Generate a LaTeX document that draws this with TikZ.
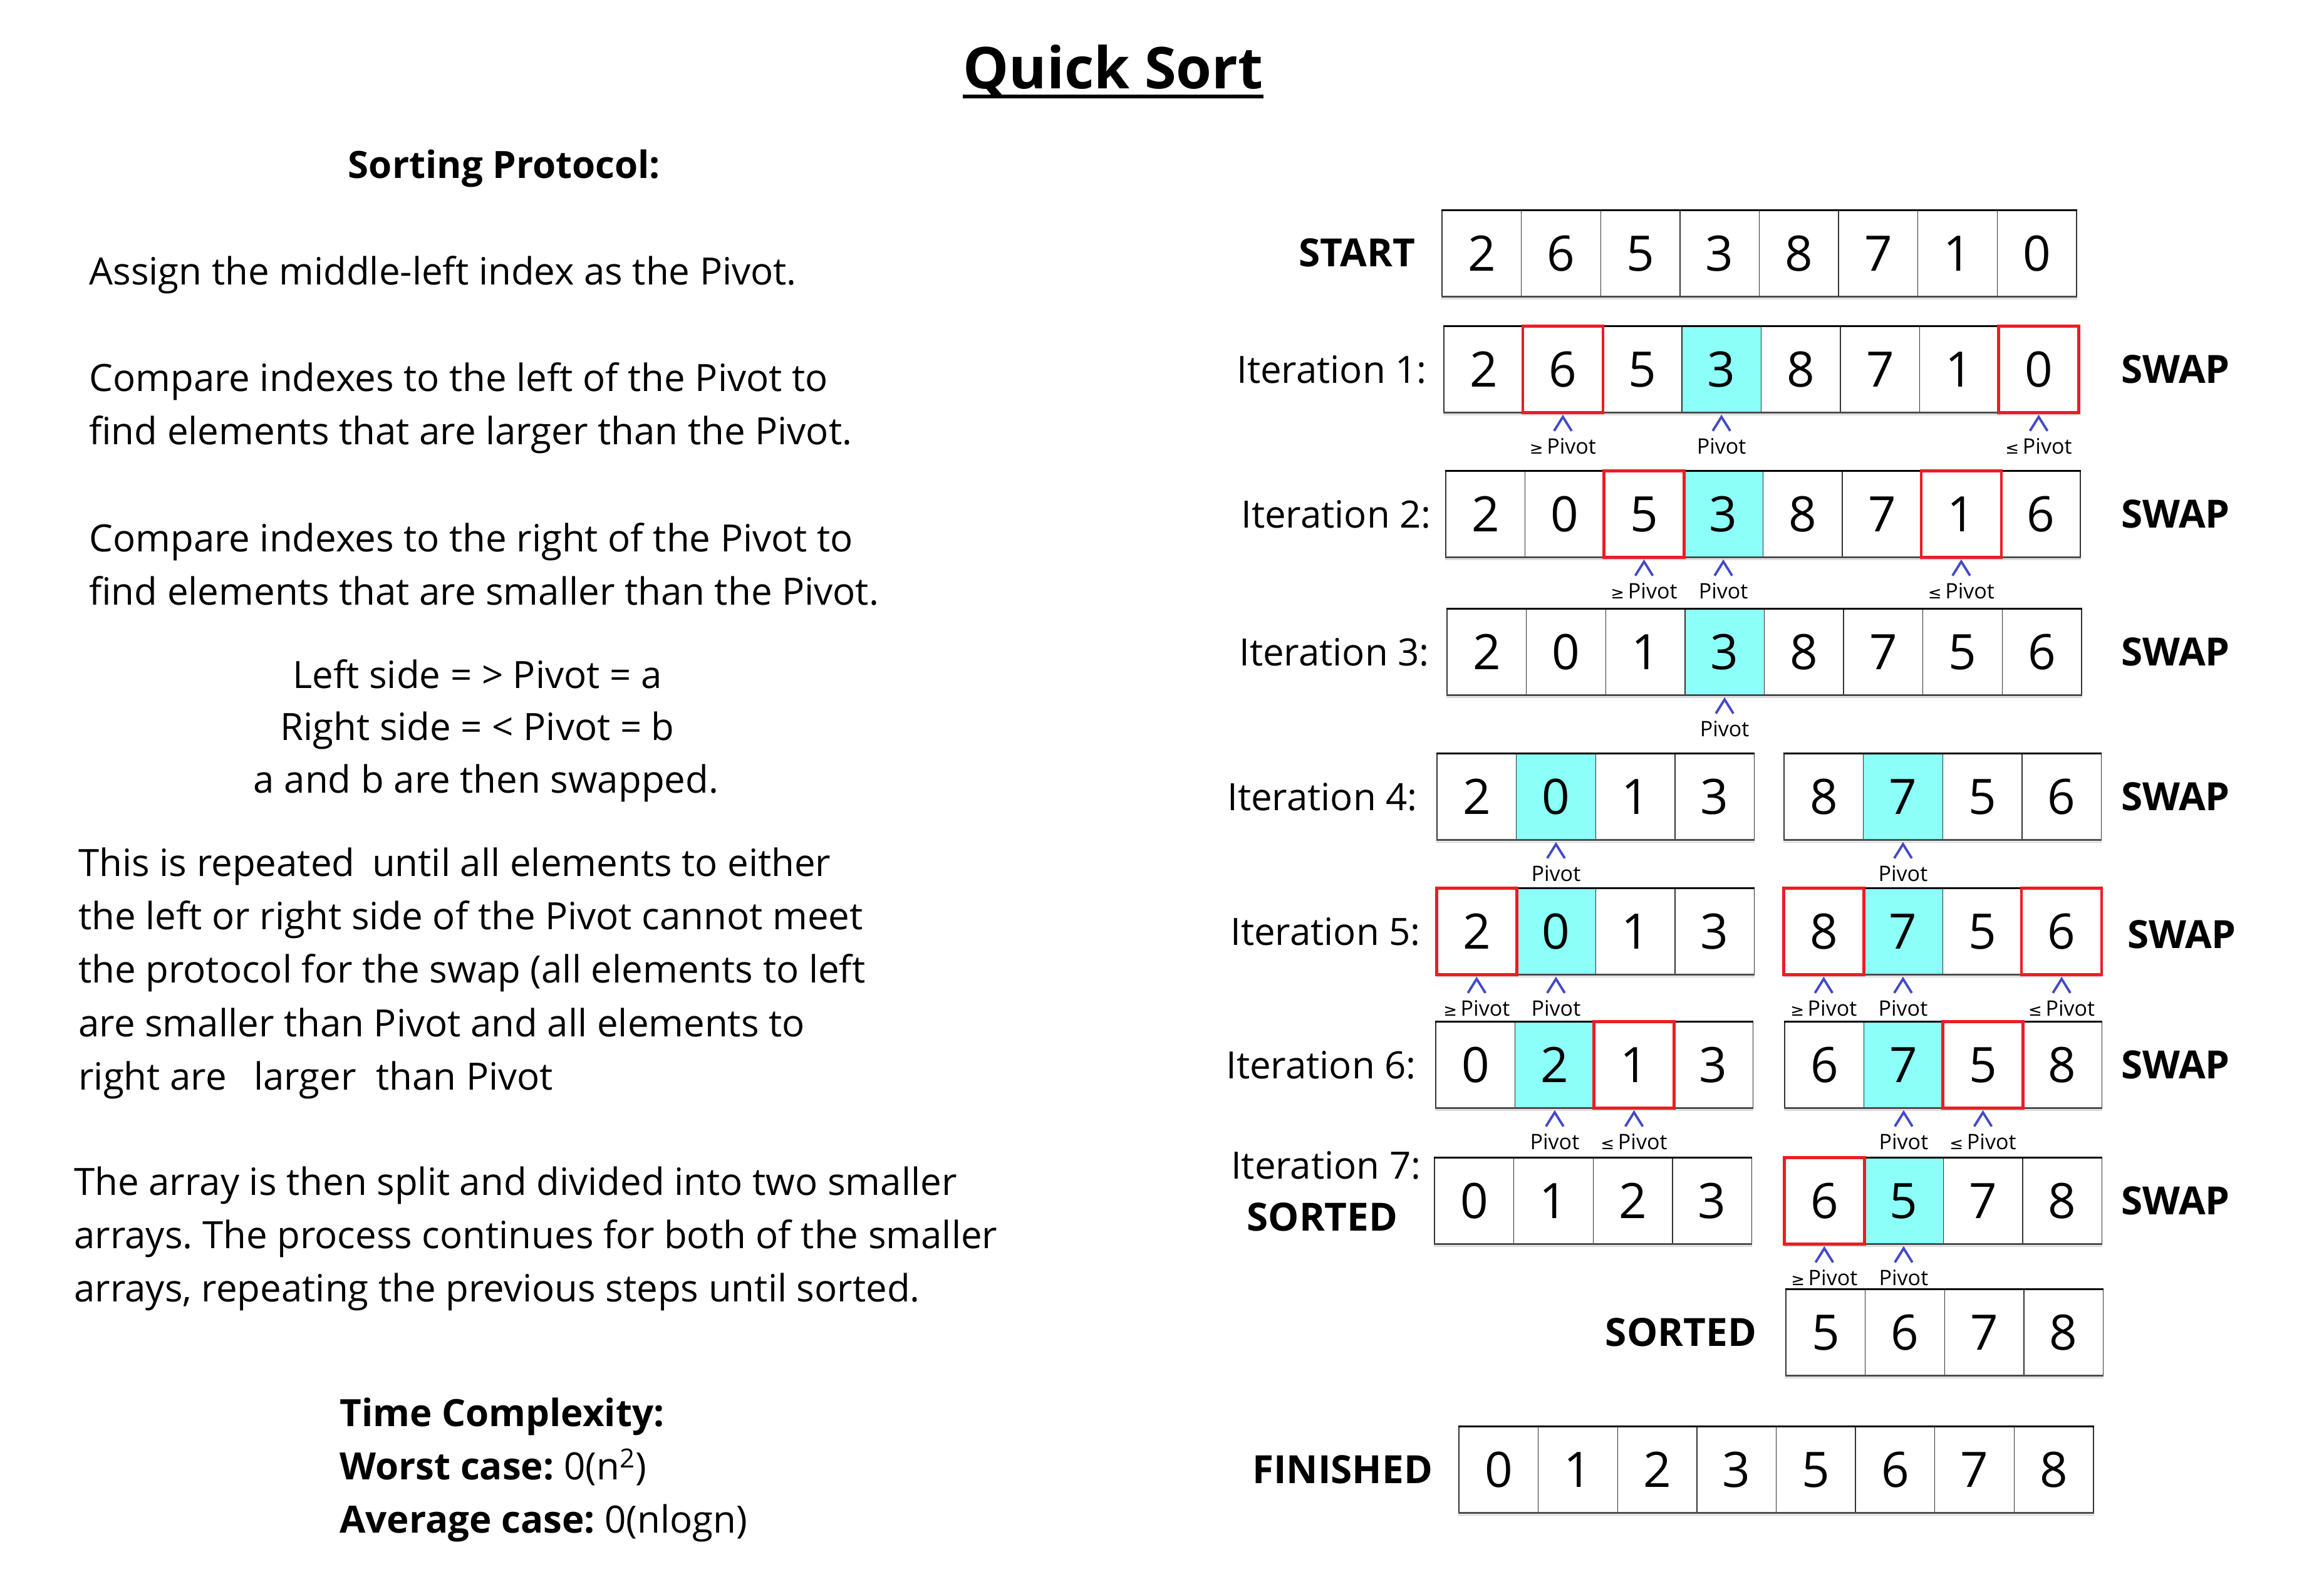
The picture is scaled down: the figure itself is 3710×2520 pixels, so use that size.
\documentclass[tikz,border=0pt]{standalone}
\usepackage{fontspec}
\setmainfont{Open Sans}
\newfontfamily\symfont{DejaVu Sans}
\definecolor{pivcyan}{HTML}{8CFFF8}
\definecolor{swapred}{HTML}{ED1C24}
\definecolor{caretblue}{HTML}{4349C8}
\newcommand\gesym{{\symfont\fontsize{13}{13}\selectfont ≥}}
\newcommand\lesym{{\symfont\fontsize{13}{13}\selectfont ≤}}
\frenchspacing
\tikzset{
  cellbox/.style={draw=black!80, line width=0.7pt, minimum width=63.3pt, minimum height=68.5pt, inner sep=0pt, font=\fontsize{39}{40}\selectfont, text height=28pt, text depth=0pt},
  pl/.style={},
  pv/.style={fill=pivcyan},
  topedge/.style={line width=1.6pt, black},
  botedge/.style={line width=1.6pt, black!70},
  botshade/.style={line width=1pt, black!15},
  redframe/.style={draw=swapred, line width=2.3pt},
  caretline/.style={draw=caretblue, line width=1.9pt},
  plabel/.style={font=\fontsize{17}{17}\selectfont, inner sep=0pt, text height=12.5pt, text depth=0pt},
  rowlabel/.style={font=\fontsize{30}{34}\selectfont, inner sep=0pt, text height=21.5pt, text depth=0pt},
  boldlabel/.style={rowlabel, font=\fontsize{31}{34}\selectfont\bfseries},
  bodyline/.style={font=\fontsize{30}{40}\selectfont, inner sep=0pt, anchor=base west},
  bodyc/.style={font=\fontsize{30}{40}\selectfont, inner sep=0pt, anchor=base},
}
\newcommand\drawarr[5]{%
  \foreach \v/\s [count=\i] in {#5} {
    \node[cellbox,\s] (#1-\i) at ({#2+126.6*(\i-0.5)},{#3+68.5}) {\v};
  }
  \draw[botshade] ([yshift=-1.5pt]#1-1.south west) -- ([yshift=-1.5pt]#1-#4.south east);
  \draw[botedge] (#1-1.south west) -- (#1-#4.south east);
  \draw[topedge] (#1-1.north west) -- (#1-#4.north east);
}
\newcommand\pmark[3]{%
  \draw[caretline] ([xshift=-7pt,yshift=-14.5pt]#1.south) -- ([yshift=-3.3pt]#1.south) -- ([xshift=7pt,yshift=-14.5pt]#1.south);
  \node[plabel] (#3) at ([yshift=-26.5pt]#1.south) {#2};
}
\newcommand\redcell[1]{\draw[redframe] (#1.north west) rectangle (#1.south east);}
\begin{document}
\begin{tikzpicture}[x=0.5pt,y=-0.5pt]
\fill[white] (0,0) rectangle (3710,2520);
\useasboundingbox (0,0) rectangle (3710,2520);

% ---------- title ----------
\node[font=\fontsize{46}{50}\selectfont\bfseries, inner sep=0pt, anchor=base] (title) at (1777,142) {Quick Sort};
\draw[line width=2.6pt] ([yshift=-6pt]title.base west) -- ([yshift=-6pt]title.base east);

% ---------- left text ----------
\node[font=\fontsize{30}{40}\selectfont\bfseries, inner sep=0pt, anchor=base] (proto) at (805,285) {Sorting Protocol:};
\node[bodyline] (l1) at (142,454) {Assign the middle-left index as the Pivot.};
\node[bodyline] (l2) at (142,624) {Compare indexes to the left of the Pivot to};
\node[bodyline] (l3) at (142,709) {find elements that are larger than the Pivot.};
\node[bodyline] (l4) at (142,880) {Compare indexes to the right of the Pivot to};
\node[bodyline] (l5) at (142,965) {find elements that are smaller than the Pivot.};
\node[bodyc] (l6) at (762,1098) {Left side = > Pivot = a};
\node[bodyc] (l7) at (762,1181) {Right side = < Pivot = b};
\node[bodyc] (l8) at (776,1265) {a and b are then swapped.};
\node[bodyline] (l9) at (125,1398) {This is repeated\hspace{6pt} until all elements to either};
\node[bodyline] (l10) at (125,1483) {the left or right side of the Pivot cannot meet};
\node[bodyline] (l11) at (125,1568) {the protocol for the swap (all elements to left};
\node[bodyline] (l12) at (125,1654) {are smaller than Pivot and all elements to};
\node[bodyline] (l13) at (125,1739) {right are\hspace{14pt} larger\hspace{8pt} than Pivot};
\node[bodyline] (l14) at (118,1907) {The array is then split and divided into two smaller};
\node[bodyline] (l15) at (118,1992) {arrays. The process continues for both of the smaller};
\node[bodyline] (l16) at (118,2077) {arrays, repeating the previous steps until sorted.};
\node[bodyline, font=\fontsize{30}{40}\selectfont\bfseries] (tc) at (542,2276) {Time Complexity:};
\node[bodyline] (wc) at (542,2361) {\textbf{Worst case:} 0(n\textsuperscript{2})};
\node[bodyline] (ac) at (542,2446) {\textbf{Average case:} 0(nlogn)};

% ---------- arrays ----------
\drawarr{st}{2302}{336}{8}{2/pl,6/pl,5/pl,3/pl,8/pl,7/pl,1/pl,0/pl}
\drawarr{ia}{2305}{521}{8}{2/pl,6/pl,5/pl,3/pv,8/pl,7/pl,1/pl,0/pl}
\drawarr{ib}{2308}{752}{8}{2/pl,0/pl,5/pl,3/pv,8/pl,7/pl,1/pl,6/pl}
\drawarr{ic}{2310}{972}{8}{2/pl,0/pl,1/pl,3/pv,8/pl,7/pl,5/pl,6/pl}
\drawarr{idl}{2294}{1203}{4}{2/pl,0/pv,1/pl,3/pl}
\drawarr{idr}{2848}{1203}{4}{8/pl,7/pv,5/pl,6/pl}
\drawarr{iel}{2294}{1418}{4}{2/pl,0/pv,1/pl,3/pl}
\drawarr{ier}{2848}{1418}{4}{8/pl,7/pv,5/pl,6/pl}
\drawarr{ifl}{2292}{1631}{4}{0/pl,2/pv,1/pl,3/pl}
\drawarr{ifr}{2849}{1631}{4}{6/pl,7/pv,5/pl,8/pl}
\drawarr{igl}{2290}{1848}{4}{0/pl,1/pl,2/pl,3/pl}
\drawarr{igr}{2849}{1848}{4}{6/pl,5/pv,7/pl,8/pl}
\drawarr{so}{2851}{2058}{4}{5/pl,6/pl,7/pl,8/pl}
\drawarr{fi}{2329}{2277}{8}{0/pl,1/pl,2/pl,3/pl,5/pl,6/pl,7/pl,8/pl}

% red frames
\redcell{ia-2}\redcell{ia-8}
\redcell{ib-3}\redcell{ib-7}
\redcell{iel-1}\redcell{ier-1}\redcell{ier-4}
\redcell{ifl-3}\redcell{ifr-3}
\redcell{igr-1}

% carets and pivot labels
\pmark{ia-2}{\gesym\,Pivot}{pa1}
\pmark{ia-4}{Pivot}{pa2}
\pmark{ia-8}{\lesym\,Pivot}{pa3}
\pmark{ib-3}{\gesym\,Pivot}{pb1}
\pmark{ib-4}{Pivot}{pb2}
\pmark{ib-7}{\lesym\,Pivot}{pb3}
\pmark{ic-4}{Pivot}{pc1}
\pmark{idl-2}{Pivot}{pd1}
\pmark{idr-2}{Pivot}{pd2}
\pmark{iel-1}{\gesym\,Pivot}{pe1}
\pmark{iel-2}{Pivot}{pe2}
\pmark{ier-1}{\gesym\,Pivot}{pe3}
\pmark{ier-2}{Pivot}{pe4}
\pmark{ier-4}{\lesym\,Pivot}{pe5}
\pmark{ifl-2}{Pivot}{pf1}
\pmark{ifl-3}{\lesym\,Pivot}{pf2}
\pmark{ifr-2}{Pivot}{pf3}
\pmark{ifr-3}{\lesym\,Pivot}{pf4}
\pmark{igr-1}{\gesym\,Pivot}{pg1}
\pmark{igr-2}{Pivot}{pg2}

% row labels
\node[boldlabel, anchor=east] (lst) at ([xshift=-21pt]st-1.west) {START};
\node[rowlabel, anchor=east] (lia) at ([xshift=-13pt]ia-1.west) {Iteration 1:};
\node[rowlabel, anchor=east] (lib) at ([xshift=-11pt]ib-1.west) {Iteration 2:};
\node[rowlabel, anchor=east] (lic) at ([xshift=-13.5pt]ic-1.west) {Iteration 3:};
\node[rowlabel, anchor=east] (lid) at ([xshift=-15pt]idl-1.west) {Iteration 4:};
\node[rowlabel, anchor=east] (lie) at ([xshift=-12.5pt]iel-1.west) {Iteration 5:};
\node[rowlabel, anchor=east] (lif) at ([xshift=-15pt]ifl-1.west) {Iteration 6:};
\node[rowlabel, anchor=east] (lig) at (2269,1860) {Iteration 7:};
\node[boldlabel] (lsa) at (2111,1943) {SORTED};
\node[boldlabel, anchor=east] (lso) at ([xshift=-23pt]so-1.west) {SORTED};
\node[boldlabel, anchor=east] (lfi) at ([xshift=-20.5pt]fi-1.west) {FINISHED};

% swap labels
\node[boldlabel] (sa) at (3473,590) {SWAP};
\node[boldlabel] (sb) at (3473,821) {SWAP};
\node[boldlabel] (sc) at (3473,1041) {SWAP};
\node[boldlabel] (sd) at (3473,1272) {SWAP};
\node[boldlabel] (se) at (3483,1492) {SWAP};
\node[boldlabel] (sf) at (3473,1700) {SWAP};
\node[boldlabel] (sg) at (3473,1917) {SWAP};
\end{tikzpicture}
\end{document}
